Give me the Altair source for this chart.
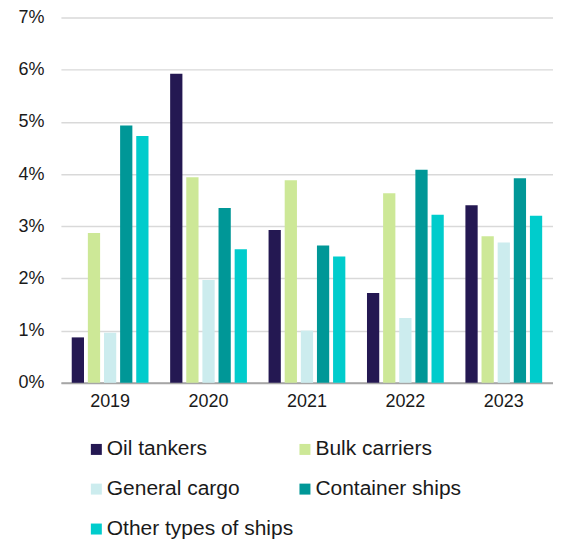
import altair as alt
import pandas as pd

years = ["2019", "2020", "2021", "2022", "2023"]
types = ["Oil tankers", "Bulk carriers", "General cargo", "Container ships", "Other types of ships"]
colors = ["#241852", "#CDE897", "#CCECEE", "#009797", "#00CCCC"]
legend_order = ["Oil tankers", "General cargo", "Other types of ships", "Bulk carriers", "Container ships"]

oil_tankers = [0.87, 5.92, 2.93, 1.72, 3.40]
bulk_carriers = [2.87, 3.94, 3.88, 3.63, 2.81]
general_cargo = [0.96, 1.97, 1.00, 1.24, 2.69]
container_ships = [4.93, 3.35, 2.63, 4.08, 3.92]
other_types = [4.73, 2.56, 2.42, 3.22, 3.20]

series = [oil_tankers, bulk_carriers, general_cargo, container_ships, other_types]
rows = []
for t, vals in zip(types, series):
    for y, v in zip(years, vals):
        rows.append({"year": y, "type": t, "value": v / 100})
df = pd.DataFrame(rows)

FONT = "Liberation Sans"

chart = alt.Chart(df).mark_bar().encode(
    x=alt.X("year:N", sort=years, title=None,
            scale=alt.Scale(paddingInner=0.22, paddingOuter=0.11),
            axis=alt.Axis(labelAngle=0, ticks=False, domainColor="#a6a6a6", domainWidth=2,
                          labelFontSize=18, labelPadding=10, labelColor="#1a1a1a", labelFont=FONT)),
    xOffset=alt.XOffset("type:N", sort=types, scale=alt.Scale(paddingInner=0.24)),
    y=alt.Y("value:Q", title=None,
            scale=alt.Scale(domain=[0, 0.07], nice=False),
            axis=alt.Axis(format=".0%", values=[0, 0.01, 0.02, 0.03, 0.04, 0.05, 0.06, 0.07],
                          domain=False, ticks=False, gridColor="#d9d9d9", gridWidth=1.5,
                          labelFontSize=18, labelPadding=17, labelColor="#1a1a1a", labelFont=FONT)),
    color=alt.Color("type:N", sort=types,
                    scale=alt.Scale(domain=types, range=colors),
                    legend=alt.Legend(title=None, orient="none", legendX=25, legendY=422,
                                      values=legend_order,
                                      columns=2, columnPadding=1, rowPadding=18,
                                      symbolType="square", symbolSize=121, symbolStrokeWidth=0,
                                      labelFontSize=21, labelFont=FONT, labelColor="#1a1a1a",
                                      labelOffset=0, labelLimit=300)),
).properties(
    width=493, height=366,
    padding={"top": 0, "left": 9, "right": 0, "bottom": 0},
).configure_view(stroke=None)

chart.save("out.html", embed_options={"renderer": "svg", "actions": False})
